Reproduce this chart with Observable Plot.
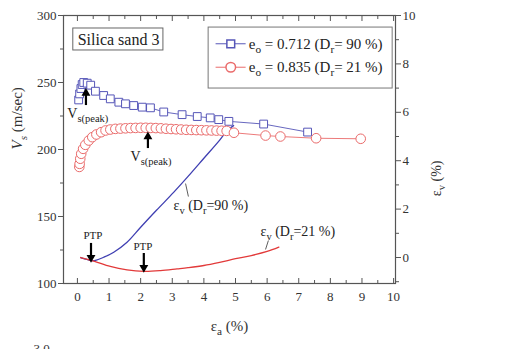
<!DOCTYPE html>
<html><head><meta charset="utf-8">
<script src="https://cdn.jsdelivr.net/npm/d3@7"></script>
<script src="https://cdn.jsdelivr.net/npm/@observablehq/plot@0.6"></script>
<style>
body{margin:0;background:#fff;}
svg, svg text {font-family: 'Liberation Serif','Times New Roman',serif !important;}
</style>
</head><body><div id="chart"></div>
<script>
// Vs data, Dr = 90 % (squares)
const dense90Strain = [0.04,0.07,0.11,0.15,0.20,0.31,0.42,0.57,0.83,1.04,1.31,1.52,1.78,2.05,2.31,2.73,3.31,3.79,4.20,4.47,4.79,5.89,7.28];
const dense90Vs     = [237,241.5,245.5,248.5,250,249.5,248,243.5,240.3,237.8,235.3,234.1,232.8,231.6,231.1,228,226,224.6,223.6,222.3,221,219,213];
// Vs data, Dr = 21 % (circles)
const loose21Strain = [0.06,0.07,0.09,0.12,0.18,0.25,0.36,0.47,0.60,0.75,0.89,1.04,1.20,1.36,1.52,1.68,1.84,2.00,2.16,2.32,2.48,2.64,2.80,2.96,3.12,3.28,3.44,3.60,3.76,3.92,4.08,4.24,4.40,4.56,4.72,4.95,5.95,6.42,7.55,8.96];
const loose21Vs     = [187,189.3,193.1,196.8,200.5,203.5,206.7,209.2,211.2,212.9,214.2,214.9,215.4,215.6,215.8,216,216.1,216.2,216.2,216.1,216,215.8,215.5,215.3,215.1,214.9,214.7,214.6,214.5,214.4,214.3,214.2,214.1,214,213.9,212.5,210.4,209.7,208.4,208];
// volumetric strain curves
const ev90Strain = [0.10,0.30,0.45,0.60,0.83,1.15,1.57,2.00,2.50,3.05,3.50,4.00,4.50,4.74,4.94];
const ev90       = [0.00,-0.08,-0.13,-0.11,0.01,0.22,0.63,1.25,1.95,2.70,3.35,4.10,4.85,5.25,5.45];
const ev21Strain = [0.10,0.52,1.04,1.57,2.10,2.63,3.15,3.50,4.00,4.50,5.00,5.50,6.00,6.37];
const ev21       = [0.00,-0.15,-0.37,-0.51,-0.57,-0.54,-0.47,-0.42,-0.33,-0.20,-0.05,0.08,0.25,0.43];
// ticks
const xMajor = [0,1,2,3,4,5,6,7,8,9,10];
const xMinor = [0.5,1.5,2.5,3.5,4.5,5.5,6.5,7.5,8.5,9.5];
const yMajor = [100,150,200,250,300];
const yMinor = [125,175,225,275];
const evMajor = [0,2,4,6,8,10];
const evMinor = [-1,1,3,5,7,9];
const legendLabels = ["eo = 0.712 (Dr= 90 %)", "eo = 0.835 (Dr= 21 %)"];

const blue = "#5656b8", red = "#ea6b6b", blueLine = "#3f3fb2", redLine = "#e23a3a";
const evToVs = d3.scaleLinear().domain([-1.074, 10]).range([100, 300]);

const sq = dense90Strain.map((s, i) => ({s, v: dense90Vs[i]}));
const ci = loose21Strain.map((s, i) => ({s, v: loose21Vs[i]}));
const e90 = ev90Strain.map((s, i) => ({s, v: evToVs(ev90[i])}));
const e21 = ev21Strain.map((s, i) => ({s, v: evToVs(ev21[i])}));

const serif = "'Liberation Serif','Times New Roman',serif";
const axisCol = "#555";

const plot = Plot.plot({
  width: 526, height: 349,
  marginLeft: 63, marginRight: 131, marginTop: 15, marginBottom: 66,
  style: {fontFamily: serif, fontSize: "12px", color: "#333", background: "transparent", overflow: "visible"},
  x: {domain: [-0.44, 10.06]},
  y: {domain: [100, 300]},
  marks: [
    // axes
    Plot.axisX(xMajor, {anchor: "bottom", tickSize: -5, fill: "none", stroke: axisCol, label: null}),
    Plot.axisX(xMinor, {anchor: "bottom", tickSize: -3, fill: "none", stroke: axisCol, label: null}),
    Plot.axisX(xMajor, {anchor: "top", tickSize: -5, fill: "none", stroke: axisCol, label: null}),
    Plot.axisX(xMinor, {anchor: "top", tickSize: -3, fill: "none", stroke: axisCol, label: null}),
    Plot.axisX(xMajor, {anchor: "bottom", tickSize: 0, tickPadding: 8, fontSize: 13, label: null}),
    Plot.axisY(yMajor, {anchor: "left", tickSize: 5, tickPadding: 2, stroke: axisCol, fontSize: 13, label: null}),
    Plot.axisY(yMinor, {anchor: "left", tickSize: 3, fill: "none", stroke: axisCol, label: null}),
    Plot.axisY(evMajor.map(evToVs), {anchor: "right", tickSize: 5, tickPadding: 2, stroke: axisCol, fontSize: 13, label: null,
      tickFormat: d => String(Math.round(evToVs.invert(d)))}),
    Plot.axisY(evMinor.map(evToVs), {anchor: "right", tickSize: 3, fill: "none", stroke: axisCol, label: null}),
    Plot.frame({stroke: axisCol, strokeWidth: 1.2}),
    // axis titles
    Plot.text(["Vs (m/sec)"], {frameAnchor: "left", dx: -46, rotate: -90, fontSize: 15, fill: "#333"}),
    Plot.text(["εv (%)"], {frameAnchor: "right", dx: 41, dy: 11, rotate: -90, fontSize: 14, fill: "#333"}),
    Plot.text(["εa (%)"], {frameAnchor: "bottom", dy: 47, fontSize: 15, fill: "#333"}),
    Plot.text(["3.0"], {frameAnchor: "bottom-left", dx: -30, dy: 60, lineAnchor: "top", textAnchor: "start", fontSize: 13, fill: "#333"}),
    // volumetric strain curves
    Plot.line(e90, {x: "s", y: "v", stroke: blueLine, strokeWidth: 1.3, curve: "catmull-rom"}),
    Plot.line(e21, {x: "s", y: "v", stroke: redLine, strokeWidth: 1.3, curve: "catmull-rom"}),
    // Vs series
    Plot.line(sq, {x: "s", y: "v", stroke: blue, strokeWidth: 0.9}),
    Plot.dot(sq, {x: "s", y: "v", symbol: "square", r: 4.4, stroke: blue, fill: "white", strokeWidth: 1}),
    Plot.line(ci, {x: "s", y: "v", stroke: red, strokeWidth: 0.9}),
    Plot.dot(ci, {x: "s", y: "v", r: 4.8, stroke: red, fill: "white", strokeWidth: 1}),
    // sample box
    Plot.rect([0], {x1: -0.13, x2: 2.72, y1: 273.9, y2: 290.3, fill: "white", stroke: "#666", strokeWidth: 1}),
    Plot.text(["Silica sand 3"], {x: 1.30, y: 282, fontSize: 16, fill: "#222"}),
    // legend
    Plot.rect([0], {x1: 4.15, x2: 9.97, y1: 245.5, y2: 291, fill: "white", stroke: "#777", strokeWidth: 1}),
    Plot.link([0], {x1: 4.37, x2: 5.32, y1: 278.9, y2: 278.9, stroke: blue, strokeWidth: 1}),
    Plot.dot([0], {x: 4.85, y: 278.9, symbol: "square", r: 4.4, stroke: blue, fill: "white"}),
    Plot.link([0], {x1: 4.37, x2: 5.32, y1: 261.4, y2: 261.4, stroke: red, strokeWidth: 1}),
    Plot.dot([0], {x: 4.85, y: 261.4, r: 4.8, stroke: red, fill: "white"}),
    Plot.text([legendLabels[0]], {x: 5.42, y: 278.9, textAnchor: "start", fontSize: 15, fill: "#222"}),
    Plot.text([legendLabels[1]], {x: 5.42, y: 261.4, textAnchor: "start", fontSize: 15, fill: "#222"}),
    // peak annotations
    Plot.ruleX([0.27], {y1: 232.8, y2: 241, stroke: "black", strokeWidth: 2.2}),
    Plot.dot([0.27], {x: d => d, y: 245.5, symbol: "triangle", r: 3.3, fill: "black", dy: 4.6}),
    Plot.text(["Vs(peak)"], {x: -0.32, y: 226.5, textAnchor: "start", fontSize: 14, fill: "#222"}),
    Plot.ruleX([2.23], {y1: 200.7, y2: 209, stroke: "black", strokeWidth: 2.2}),
    Plot.dot([2.23], {x: d => d, y: 213, symbol: "triangle", r: 3.3, fill: "black", dy: 4.6}),
    Plot.text(["Vs(peak)"], {x: 1.68, y: 194.8, textAnchor: "start", fontSize: 14, fill: "#222"}),
    // PTP annotations
    Plot.text(["PTP"], {x: 0.49, y: 135.8, fontSize: 11, fill: "#222"}),
    Plot.ruleX([0.43], {y1: 129.9, y2: 120, stroke: "black", strokeWidth: 2.2}),
    Plot.dot([0.43], {x: d => d, y: 115.9, symbol: "triangle", r: 3.3, fill: "black", rotate: 180, dy: -4.6}),
    Plot.text(["PTP"], {x: 2.07, y: 128, fontSize: 11, fill: "#222"}),
    Plot.ruleX([2.1], {y1: 122.4, y2: 112, stroke: "black", strokeWidth: 2.2}),
    Plot.dot([2.1], {x: d => d, y: 108.4, symbol: "triangle", r: 3.3, fill: "black", rotate: 180, dy: -4.6}),
    // curve labels
    Plot.link([0], {x1: 3.42, y1: 174.6, x2: 3.51, y2: 164.9, stroke: "#333", strokeWidth: 0.8}),
    Plot.text(["εv (Dr=90 %)"], {x: 3.04, y: 158.2, textAnchor: "start", fontSize: 14, fill: "#222"}),
    Plot.link([0], {x1: 6.04, y1: 132.1, x2: 5.95, y2: 125.4, stroke: "#333", strokeWidth: 0.8}),
    Plot.text(["εv (Dr=21 %)"], {x: 5.79, y: 138.8, textAnchor: "start", fontSize: 14, fill: "#222"})
  ]
});

// rich text: subscripts and italics
const rich = {
  "Vs (m/sec)": [["V","i"],["s","isub"],[" (m/sec)",""]],
  "εv (%)": [["ε",""],["v","sub"],[" (%)",""]],
  "εa (%)": [["ε",""],["a","sub"],[" (%)",""]],
  "Vs(peak)": [["V",""],["s(peak)","sub"]],
  "eo = 0.712 (Dr= 90 %)": [["e",""],["o","sub"],[" = 0.712 (D",""],["r","sub"],["= 90 %)",""]],
  "eo = 0.835 (Dr= 21 %)": [["e",""],["o","sub"],[" = 0.835 (D",""],["r","sub"],["= 21 %)",""]],
  "εv (Dr=90 %)": [["ε",""],["v","sub"],[" (D",""],["r","sub"],["=90 %)",""]],
  "εv (Dr=21 %)": [["ε",""],["v","sub"],[" (D",""],["r","sub"],["=21 %)",""]]
};
const NS = "http://www.w3.org/2000/svg";
plot.setAttribute("font-family", serif);
document.getElementById("chart").appendChild(plot);
plot.querySelectorAll("text").forEach(t => {
  const parts = rich[t.textContent];
  if (!parts) return;
  const fs = parseFloat(getComputedStyle(t).fontSize) || 13;
  const sh = fs * 0.28;
  t.textContent = "";
  let cur = 0;
  for (const [s, kind] of parts) {
    const ts = document.createElementNS(NS, "tspan");
    ts.textContent = s;
    const sub = kind.includes("sub");
    const target = sub ? sh : 0;
    if (target !== cur) { ts.setAttribute("dy", target - cur); cur = target; }
    if (sub) ts.setAttribute("font-size", "75%");
    if (kind.includes("i")) ts.setAttribute("font-style", "italic");
    t.appendChild(ts);
  }
});
</script>
</body></html>
